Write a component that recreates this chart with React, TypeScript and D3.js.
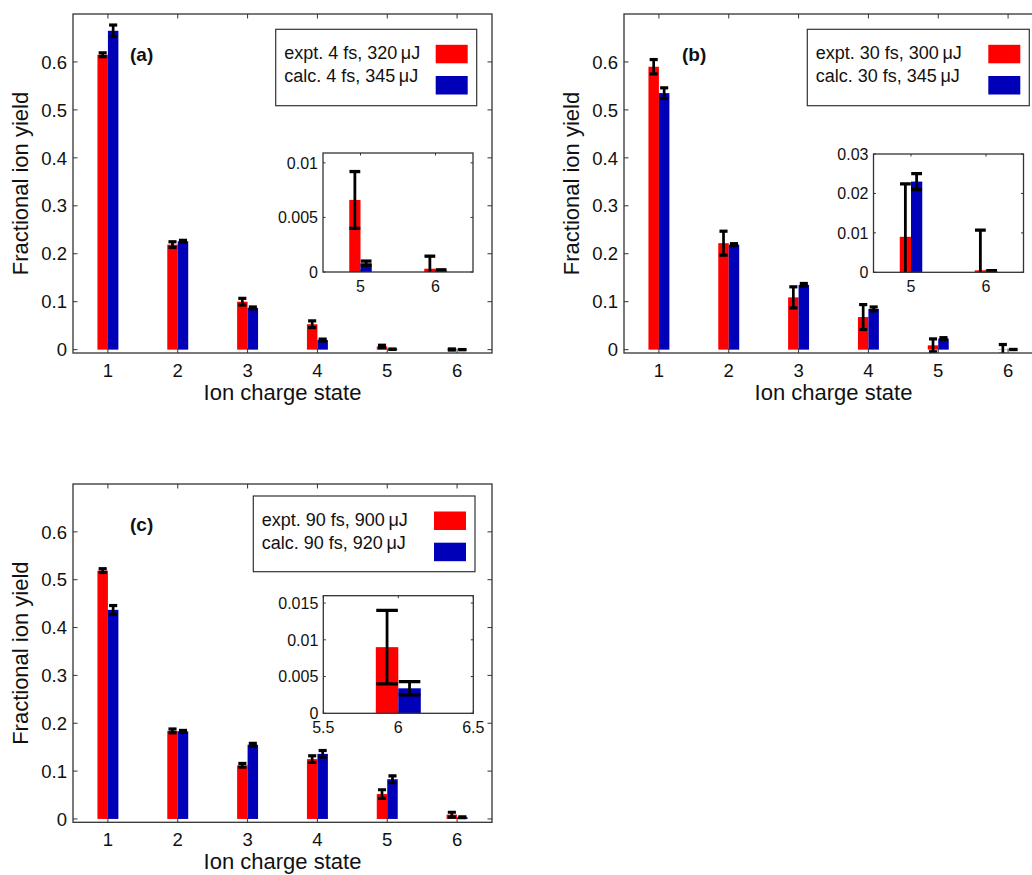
import React from "react";
import * as d3 from "d3";

// ---------- data ----------
const charges = [1, 2, 3, 4, 5, 6];

const exptA = [0.615, 0.219, 0.1, 0.053, 0.0066, 0.0003];
const exptAErr = [0.004, 0.006, 0.007, 0.007, 0.0026, 0.00115];
const calcA = [0.665, 0.226, 0.087, 0.02, 0.0008, 0.0001];
const calcAErr = [0.012, 0.002, 0.002, 0.002, 0.0002, 0.0001];

const exptB = [0.59, 0.222, 0.109, 0.068, 0.009, 0.0005];
const exptBErr = [0.015, 0.025, 0.022, 0.026, 0.0134, 0.0102];
const calcB = [0.535, 0.219, 0.135, 0.085, 0.023, 0.0003];
const calcBErr = [0.011, 0.002, 0.003, 0.004, 0.002, 0.0001];

const exptC = [0.519, 0.184, 0.112, 0.125, 0.052, 0.009];
const exptCErr = [0.004, 0.004, 0.004, 0.007, 0.009, 0.005];
const calcC = [0.437, 0.183, 0.155, 0.136, 0.083, 0.0034];
const calcCErr = [0.009, 0.002, 0.003, 0.007, 0.007, 0.0009];

const legendA = ["expt. 4 fs, 320\u2009\u03bcJ", "calc. 4 fs, 345\u2009\u03bcJ"];
const legendB = ["expt. 30 fs, 300\u2009\u03bcJ", "calc. 30 fs, 345\u2009\u03bcJ"];
const legendC = ["expt. 90 fs, 900\u2009\u03bcJ", "calc. 90 fs, 920\u2009\u03bcJ"];

const mainYTicks = [0, 0.1, 0.2, 0.3, 0.4, 0.5, 0.6];
const mainYTickLabels = ["0", "0.1", "0.2", "0.3", "0.4", "0.5", "0.6"];
const mainXTicks = [1, 2, 3, 4, 5, 6];

const insetAYTicks = [0, 0.005, 0.01];
const insetAYLabels = ["0", "0.005", "0.01"];
const insetBYTicks = [0, 0.01, 0.02, 0.03];
const insetBYLabels = ["0", "0.01", "0.02", "0.03"];
const insetCYTicks = [0, 0.005, 0.01, 0.015];
const insetCYLabels = ["0", "0.005", "0.01", "0.015"];
const insetABXTicks = [5, 6];
const insetABXLabels = ["5", "6"];
const insetCXTicks = [5.5, 6, 6.5];
const insetCXLabels = ["5.5", "6", "6.5"];

const RED = "#ff0000";
const BLUE = "#0000b8";
const AXC = "#333";
const FONT = "'Liberation Sans', Arial, Helvetica, sans-serif";

type Series = { v: number[]; e: number[] };

function Axes(props: {
  id: string;
  x0: number; y0: number; w: number; h: number;
  xDomain: [number, number]; yDomain: [number, number];
  xTicks: number[]; xLabels: string[];
  yTicks: number[]; yLabels: string[];
  red: Series; blue: Series;
  tickLen: number; fontSize: number; capHalf: number;
  xLabelOffset: number; yLabelGap: number;
  errW: number;
}) {
  const { id, x0, y0, w, h, xDomain, yDomain, red, blue } = props;
  const x = d3.scaleLinear().domain(xDomain).range([x0, x0 + w]);
  const y = d3.scaleLinear().domain(yDomain).range([y0 + h, y0]);
  const bw = 0.15;
  const bars: any[] = [];
  const errs: any[] = [];
  charges.forEach((c, i) => {
    const groups = [
      { s: red, left: c - bw, col: RED },
      { s: blue, left: c, col: BLUE },
    ];
    groups.forEach((g, j) => {
      const v = g.s.v[i];
      const e = g.s.e[i];
      const xl = x(g.left);
      const xr = x(g.left + bw);
      bars.push(
        <rect key={`b${i}${j}`} x={xl} y={y(v)} width={xr - xl} height={Math.max(0, y(0) - y(v))} fill={g.col} />
      );
      const xc = x(g.left + bw / 2);
      const ch = x(g.left + bw / 2 + props.capHalf) - xc;
      errs.push(
        <g key={`e${i}${j}`} stroke="#000" fill="none">
          <line x1={xc} x2={xc} y1={y(v - e)} y2={y(v + e)} strokeWidth={props.errW} />
          <line x1={xc - ch} x2={xc + ch} y1={y(v + e)} y2={y(v + e)} strokeWidth={props.errW + 0.5} />
          <line x1={xc - ch} x2={xc + ch} y1={y(v - e)} y2={y(v - e)} strokeWidth={props.errW + 0.5} />
        </g>
      );
    });
  });
  const tl = props.tickLen;
  return (
    <g>
      <defs>
        <clipPath id={id}>
          <rect x={x0} y={y0} width={w} height={h} />
        </clipPath>
      </defs>
      <rect x={x0} y={y0} width={w} height={h} fill="#fff" />
      <g clipPath={`url(#${id})`}>
        {bars}
        {errs}
      </g>
      <g stroke={AXC} strokeWidth={1}>
        {props.xTicks.map((t, i) => (
          <g key={`xt${i}`}>
            <line x1={x(t)} x2={x(t)} y1={y0 + h} y2={y0 + h - tl} />
            <line x1={x(t)} x2={x(t)} y1={y0} y2={y0 + tl} />
          </g>
        ))}
        {props.yTicks.map((t, i) => (
          <g key={`yt${i}`}>
            <line x1={x0} x2={x0 + tl} y1={y(t)} y2={y(t)} />
            <line x1={x0 + w} x2={x0 + w - tl} y1={y(t)} y2={y(t)} />
          </g>
        ))}
      </g>
      <rect x={x0} y={y0} width={w} height={h} fill="none" stroke={AXC} strokeWidth={1.3} />
      <g fontFamily={FONT} fontSize={props.fontSize} fill="#111">
        {props.xTicks.map((t, i) => (
          <text key={`xl${i}`} x={x(t)} y={y0 + h + props.xLabelOffset} textAnchor="middle">
            {props.xLabels[i]}
          </text>
        ))}
        {props.yTicks.map((t, i) => (
          <text key={`yl${i}`} x={x0 - props.yLabelGap} y={y(t)} dy="0.36em" textAnchor="end">
            {props.yLabels[i]}
          </text>
        ))}
      </g>
    </g>
  );
}

function Legend(props: { x: number; y: number; w: number; h: number; labels: string[] }) {
  const { x, y, w, h, labels } = props;
  return (
    <g>
      <rect x={x} y={y} width={w} height={h} fill="#fff" stroke={AXC} strokeWidth={1.2} />
      <g fontFamily={FONT} fontSize={18} fill="#111">
        <text x={x + 8.5} y={y + 30}>{labels[0]}</text>
        <text x={x + 8.5} y={y + 53}>{labels[1]}</text>
      </g>
      <rect x={x + w - 41} y={y + 15.5} width={32} height={18.5} fill={RED} />
      <rect x={x + w - 41} y={y + 46.7} width={32} height={18.5} fill={BLUE} />
    </g>
  );
}

function Panel(props: {
  id: string; x0: number; y0: number; h: number;
  red: Series; blue: Series; legend: string[]; leg: { x: number; y: number; w: number; h: number };
  tag: string; tagX: number;
  inset: { x: number; y: number; w: number; h: number; xd: [number, number]; yd: [number, number];
    xt: number[]; xl: string[]; yt: number[]; yl: string[] };
}) {
  const { x0, y0, h } = props;
  const w = 419;
  const ins = props.inset;
  return (
    <g>
      <Axes
        id={props.id + "m"} x0={x0} y0={y0} w={w} h={h}
        xDomain={[0.5, 6.5]} yDomain={[-0.007, 0.7]}
        xTicks={mainXTicks} xLabels={mainXTicks.map(String)}
        yTicks={mainYTicks} yLabels={mainYTickLabels}
        red={props.red} blue={props.blue}
        tickLen={4.5} fontSize={18.5} capHalf={0.058}
        xLabelOffset={24} yLabelGap={6} errW={2.7}
      />
      <text x={x0 + w / 2} y={y0 + h + 47} textAnchor="middle" fontFamily={FONT} fontSize={22} fill="#111">
        Ion charge state
      </text>
      <text
        transform={`translate(${x0 - 45},${y0 + h / 2}) rotate(-90)`}
        textAnchor="middle" fontFamily={FONT} fontSize={22} fill="#111"
      >
        Fractional ion yield
      </text>
      <text x={props.tagX} y={y0 + 47} fontFamily={FONT} fontSize={19} fontWeight="bold" fill="#111">
        {props.tag}
      </text>
      <Legend {...props.leg} labels={props.legend} />
      <Axes
        id={props.id + "i"} x0={ins.x} y0={ins.y} w={ins.w} h={ins.h}
        xDomain={ins.xd} yDomain={ins.yd}
        xTicks={ins.xt} xLabels={ins.xl} yTicks={ins.yt} yLabels={ins.yl}
        red={props.red} blue={props.blue}
        tickLen={2.5} fontSize={16} capHalf={0.072}
        xLabelOffset={20} yLabelGap={5} errW={2.8}
      />
    </g>
  );
}

export default function App() {
  return (
    <svg
      width={1032}
      height={875}
      style={{ position: "absolute", left: 0, top: 0, background: "#fff" }}
    >
      <rect x={0} y={0} width={1032} height={875} fill="#fff" />
      <Panel
        id="a" x0={73} y0={14} h={339}
        red={{ v: exptA, e: exptAErr }} blue={{ v: calcA, e: calcAErr }}
        legend={legendA} leg={{ x: 275.7, y: 29.3, w: 201, h: 76.4 }}
        tag="(a)" tagX={130}
        inset={{ x: 323, y: 153, w: 150, h: 119, xd: [4.5, 6.5], yd: [0, 0.0109],
          xt: insetABXTicks, xl: insetABXLabels, yt: insetAYTicks, yl: insetAYLabels }}
      />
      <Panel
        id="b" x0={624} y0={14} h={339}
        red={{ v: exptB, e: exptBErr }} blue={{ v: calcB, e: calcBErr }}
        legend={legendB} leg={{ x: 807.3, y: 29.3, w: 222, h: 76.4 }}
        tag="(b)" tagX={682}
        inset={{ x: 873.5, y: 154, w: 150, h: 118.3, xd: [4.5, 6.5], yd: [0, 0.03],
          xt: insetABXTicks, xl: insetABXLabels, yt: insetBYTicks, yl: insetBYLabels }}
      />
      <Panel
        id="c" x0={73} y0={484} h={338.3}
        red={{ v: exptC, e: exptCErr }} blue={{ v: calcC, e: calcCErr }}
        legend={legendC} leg={{ x: 253.3, y: 496, w: 221.7, h: 75.7 }}
        tag="(c)" tagX={130}
        inset={{ x: 323.3, y: 595.7, w: 150, h: 117.6, xd: [5.5, 6.5], yd: [0, 0.016],
          xt: insetCXTicks, xl: insetCXLabels, yt: insetCYTicks, yl: insetCYLabels }}
      />
    </svg>
  );
}
